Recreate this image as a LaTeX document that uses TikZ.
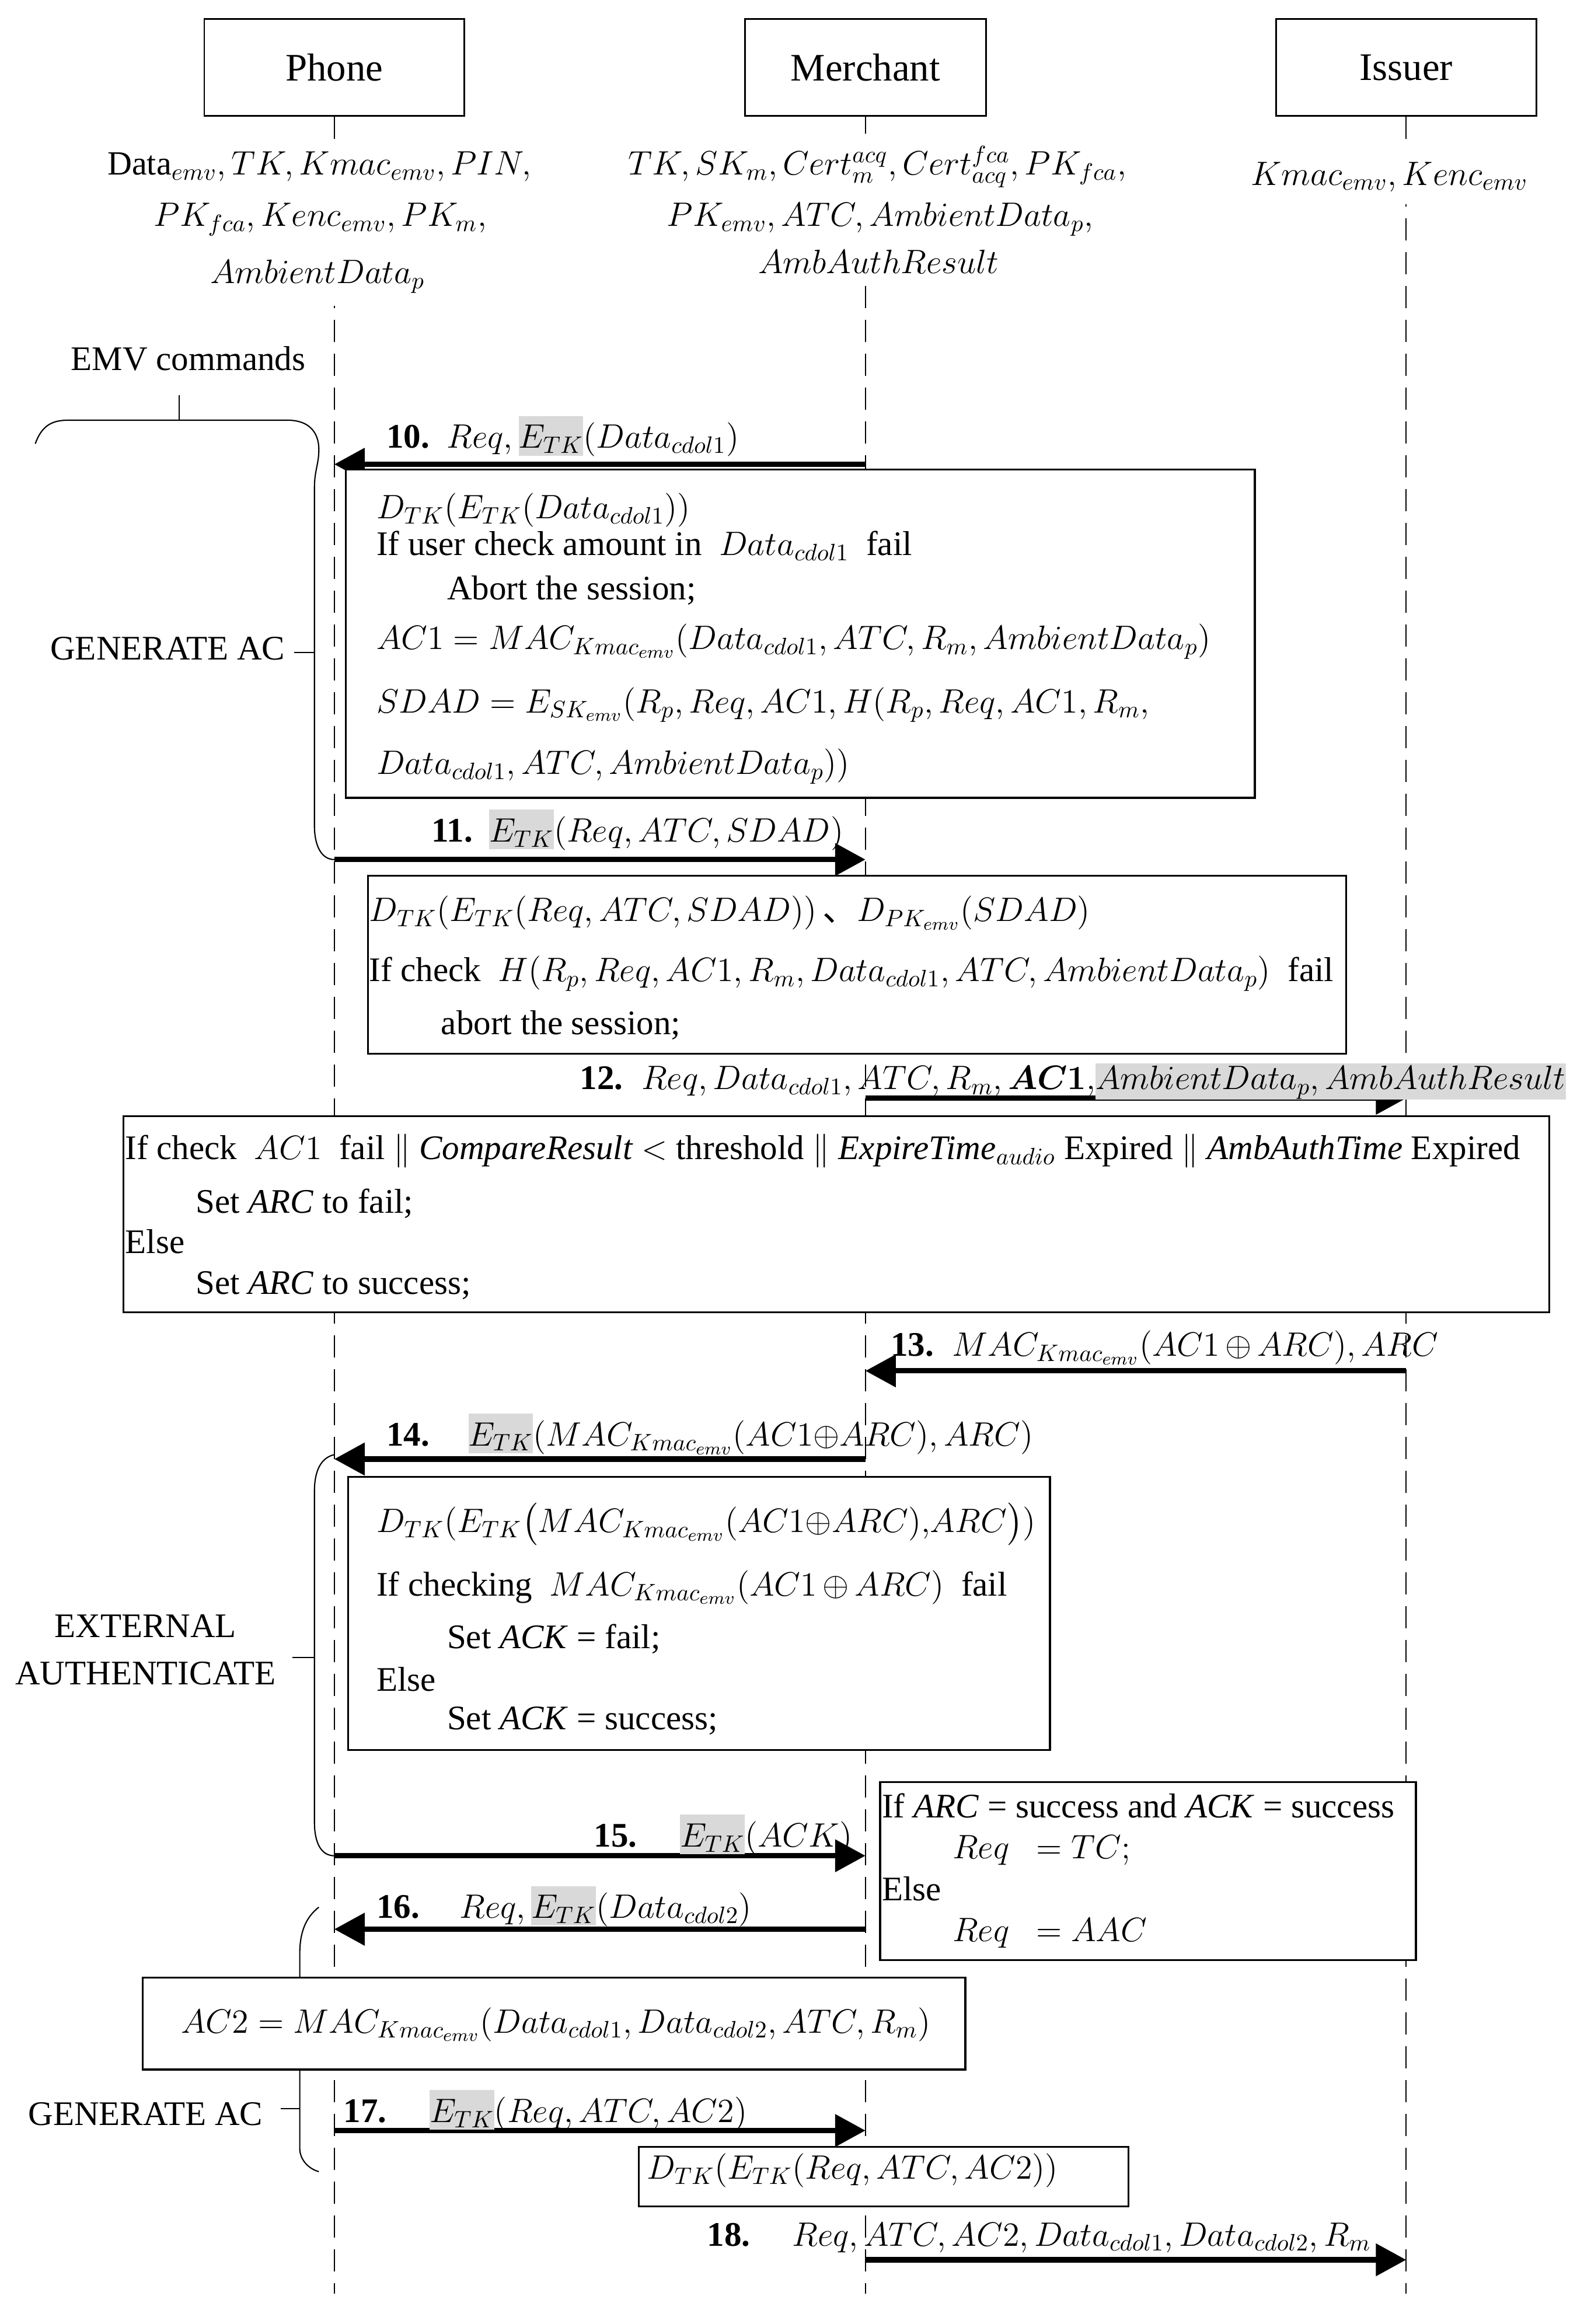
\RequirePackage{fix-cm}
\documentclass[tikz,border=0pt]{standalone}
\usepackage{amsmath}
\usepackage{fontspec}
\setmainfont{Liberation Serif}
\newfontfamily\cjk{Noto Sans CJK SC}
\usetikzlibrary{arrows.meta,fit}
\DeclareMathSizes{16.8}{16.5}{11.6}{8.6}
\definecolor{hlgray}{HTML}{D9D9D9}
\newcommand{\dpx}{0.25176mm}
\newcommand{\hl}[1]{{\setlength{\fboxsep}{0pt}\colorbox{hlgray}{\rule[-3.6pt]{0pt}{19.3pt}$#1$}}}
\newcommand{\hlw}[1]{{\setlength{\fboxsep}{0pt}\colorbox{hlgray}{\rule[-5pt]{0pt}{17.8pt}$#1$}}}
\newcommand{\kmac}{MAC_{Kmac_{emv}}}
\newcommand{\xor}{\,{\oplus}\,}

\begin{document}
\begin{tikzpicture}[x=\dpx, y=-\dpx,
		font=\fontsize{16.8}{19}\selectfont,
		actor/.style={draw, line width=0.8pt, minimum height=66*\dpx, inner sep=0pt, font=\fontsize{19}{22}\selectfont},
		keys/.style={fill=white, anchor=base, inner xsep=2pt, inner ysep=6pt},
		life/.style={line width=0.6pt, dash pattern=on 3.8mm off 2mm},
		msg/.style={line width=2.6pt, -{Triangle[length=5.2mm, width=5.4mm]}},
		box/.style={draw, line width=0.9pt, fill=white, inner sep=0pt},
		txt/.style={anchor=base west, inner sep=0pt},
		brk/.style={line width=0.6pt},
	]
	\useasboundingbox (0,0) rectangle (1078,1581.7);
	\clip (0,0) rectangle (1078,1581.7);

	% actors and lifelines
	\node[actor, minimum width=177*\dpx] (phone) at (227.5,46) {Phone};
	\node[actor, minimum width=164*\dpx] (merchant) at (589,46) {Merchant};
	\node[actor, minimum width=177*\dpx] (issuer) at (957,46) {Issuer};
	\coordinate (phoneend) at (227.5,1561);
	\coordinate (merchantend) at (589,1561);
	\coordinate (issuerend) at (957,1561);
	\draw[life] (phone) -- (phoneend);
	\draw[life] (merchant) -- (merchantend);
	\draw[life] (issuer) -- (issuerend);

	% what each party holds
	\node[keys] (pk1) at (217.5,119) {$\mathrm{Data}_{emv}, TK, Kmac_{emv}, PIN,$};
	\node[keys] (pk2) at (218,154) {$PK_{fca}, Kenc_{emv}, PK_m,$};
	\node[keys] (pk3) at (216,193) {$AmbientData_p$};
	\node[keys] (mk1) at (597,119) {$TK, SK_m, Cert_m^{acq}, Cert_{acq}^{fca}, PK_{fca},$};
	\node[keys] (mk2) at (599,154) {$PK_{emv}, ATC, AmbientData_p,$};
	\node[keys] (mk3) at (598,186) {$AmbAuthResult$};
	\node[keys] (ik1) at (945.5,126) {$Kmac_{emv}, Kenc_{emv}$};

	% command groups
	\node[txt] (emv) at (48,252) {EMV commands};
	\node[txt] (gen1) at (34,449) {GENERATE AC};
	\node[align=center, anchor=north, inner sep=0pt, font=\fontsize{16.8}{23}\selectfont] (ext) at (99,1098.7) {EXTERNAL\\AUTHENTICATE};
	\node[txt] (gen2) at (19,1446.6) {GENERATE AC};
	\draw[brk] (24,302) .. controls (28,291) and (34,286) .. (46,286) -- (196,286)
		.. controls (209,286) and (217,293) .. (217,306)
		.. controls (217,316) and (214,320) .. (214,332) -- (214,562)
		.. controls (214,576) and (219,585) .. (227.5,585);
	\draw[brk] (122,286) -- (122,269);
	\draw[brk] (200,444) -- (214,444);
	\draw[brk] (227.5,990) .. controls (219,992) and (214,1000) .. (214,1015) -- (214,1240)
		.. controls (214,1255) and (219,1263) .. (227.5,1263);
	\draw[brk] (199,1128) -- (214,1128);
	\draw[brk] (217,1298) .. controls (208,1305) and (204,1315) .. (204,1330) -- (204,1462)
		.. controls (204,1470) and (210,1476) .. (217,1478);
	\draw[brk] (191,1435) -- (204,1435);

	% messages
	\coordinate (p10) at (227.5,316);  \coordinate (m10) at (589,316);
	\coordinate (p11) at (227.5,585);  \coordinate (m11) at (589,585);
	\coordinate (m12) at (589,747.5);  \coordinate (i12) at (957,747.5);
	\coordinate (i13) at (957,933);    \coordinate (m13) at (589,933);
	\coordinate (m14) at (589,993);    \coordinate (p14) at (227.5,993);
	\coordinate (p15) at (227.5,1263); \coordinate (m15) at (589,1263);
	\coordinate (m16) at (589,1313);   \coordinate (p16) at (227.5,1313);
	\coordinate (p17) at (227.5,1450); \coordinate (m17) at (589,1450);
	\coordinate (m18) at (589,1538);   \coordinate (i18) at (957,1538);
	\draw[msg] (m10) -- (p10);
	\draw[msg] (p11) -- (m11);
	\draw[msg] (m12) -- (i12);
	\draw[msg] (i13) -- (m13);
	\draw[msg] (m14) -- (p14);
	\draw[msg] (p15) -- (m15);
	\draw[msg] (m16) -- (p16);
	\draw[msg] (p17) -- (m17);
	\draw[msg] (m18) -- (i18);

	% processing boxes
	\node[box, fit={(235.5,319.5) (854,543)}] (b10) {};
	\node[box, fit={(250.5,596) (916,717)}] (b11) {};
	\node[box, fit={(84,759.5) (1054.5,893)}] (b12) {};
	\node[box, fit={(237,1005) (714.6,1191)}] (b14) {};
	\node[box, fit={(599,1213) (963.6,1334)}] (b15) {};
	\node[box, fit={(97,1346) (657,1408.5)}] (b16) {};
	\node[box, fit={(434.7,1461) (768,1501.5)}] (b17) {};

	\node[txt] (t10a) at (256,353) {$D_{TK}(E_{TK}(Data_{cdol1}))$};
	\node[txt] (t10b) at (256,378) {If user check amount in\ \ $Data_{cdol1}$\ \ fail};
	\node[txt] (t10c) at (304,408) {Abort the session;};
	\node[txt] (t10d) at (256,442) {$AC1 = \kmac(Data_{cdol1}, ATC, R_m, AmbientData_p)$};
	\node[txt] (t10e) at (256,485) {$SDAD = E_{SK_{emv}}(R_p, Req, AC1, H(R_p, Req, AC1, R_m,$};
	\node[txt] (t10f) at (256,527) {$Data_{cdol1}, ATC, AmbientData_p))$};

	\node[txt] (t11a) at (251,627) {$D_{TK}(E_{TK}(Req, ATC, SDAD))$\,{\cjk 、}$D_{PK_{emv}}(SDAD)$};
	\node[txt] (t11b) at (251,668) {If check\ \ $H(R_p, Req, AC1, R_m, Data_{cdol1}, ATC, AmbientData_p)$\ \ fail};
	\node[txt] (t11c) at (300,704) {abort the session;};

	\node[txt] (t12a) at (85,789) {If check\ \ $AC1$\ \ fail $\|$ \textit{CompareResult} $<$ threshold $\|$ \textit{ExpireTime}$_{audio}$ Expired $\|$ \textit{AmbAuthTime} Expired};
	\node[txt] (t12b) at (133,825.5) {Set \textit{ARC} to fail;};
	\node[txt] (t12c) at (85,853) {Else};
	\node[txt] (t12d) at (133,881) {Set \textit{ARC} to success;};

	\node[txt] (t14a) at (256,1043) {$D_{TK}(E_{TK}\bigl(\kmac(AC1{\oplus}ARC),\!ARC\bigr))$};
	\node[txt] (t14b) at (256,1086) {If checking\ \ $\kmac(AC1\xor ARC)$\ \ fail};
	\node[txt] (t14c) at (304,1122) {Set \textit{ACK} = fail;};
	\node[txt] (t14d) at (256,1151) {Else};
	\node[txt] (t14e) at (304,1177) {Set \textit{ACK} = success;};

	\node[txt] (t15a) at (600,1237) {If \textit{ARC} = success and \textit{ACK} = success};
	\node[txt] (t15b) at (648,1265) {$Req\ \ = TC;$};
	\node[txt] (t15c) at (600,1293.5) {Else};
	\node[txt] (t15d) at (648,1321.5) {$Req\ \ = AAC$};

	\node[txt] (t16a) at (123,1383.5) {$AC2 = \kmac(Data_{cdol1}, Data_{cdol2}, ATC, R_m)$};
	\node[txt] (t17a) at (440,1483) {$D_{TK}(E_{TK}(Req, ATC, AC2))$};

	% message labels
	\node[txt] (l10) at (262.7,305) {\textbf{10.}\hspace{8.5pt}$Req,$\,\hl{E_{TK}}$(Data_{cdol1})$};
	\node[txt] (l11) at (293.5,573) {\textbf{11.}\hspace{8pt}\hl{E_{TK}}$(Req, ATC, SDAD)$};
	\node[txt] (l12) at (394.5,741.5) {\textbf{12.}\hspace{9pt}$Req, Data_{cdol1}, ATC, R_m, \boldsymbol{AC1},$\hlw{AmbientData_p, AmbAuthResult}};
	\node[txt] (l13) at (606,923) {\textbf{13.}\hspace{9pt}$\kmac(AC1\xor ARC), ARC$};
	\node[txt] (l14) at (262.7,984) {\textbf{14.}\hspace{19pt}\hl{E_{TK}}$(\kmac(AC1{\oplus}ARC),ARC)$};
	\node[txt] (l15) at (404,1257) {\textbf{15.}\hspace{21pt}\hl{E_{TK}}$(ACK)$};
	\node[txt] (l16) at (256,1305.5) {\textbf{16.}\hspace{19.5pt}$Req,$\,\hl{E_{TK}}$(Data_{cdol2})$};
	\node[txt] (l17) at (233.5,1444.5) {\textbf{17.}\hspace{21pt}\hl{E_{TK}}$(Req, ATC, AC2)$};
	\node[txt] (l18) at (481,1528.5) {\textbf{18.}\hspace{20.5pt}$Req, ATC, AC2, Data_{cdol1}, Data_{cdol2}, R_m$};
\end{tikzpicture}
\end{document}
